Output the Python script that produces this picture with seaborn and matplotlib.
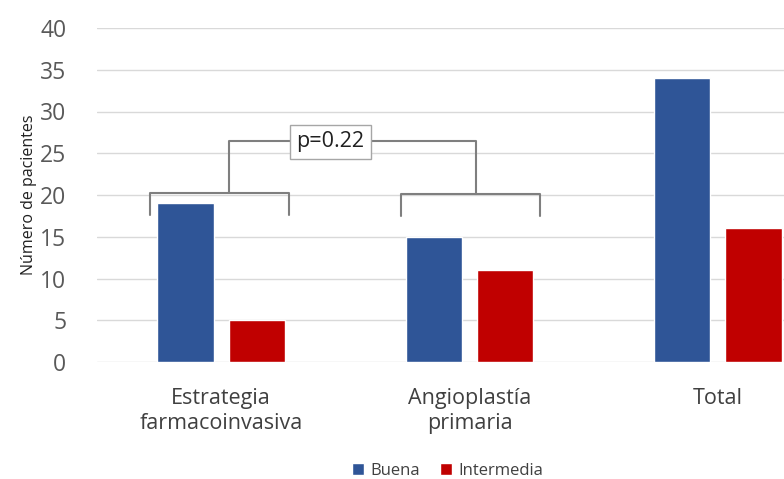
import pandas as pd
import seaborn as sns
import matplotlib.pyplot as plt

# values
categorias = ["Estrategia\nfarmacoinvasiva", "Angioplastía\nprimaria", "Total"]
buena = [19, 15, 34]
intermedia = [5, 11, 16]
series = ["Buena", "Intermedia"]
colores = ["#2F5597", "#C00000"]

df = pd.DataFrame({
    "categoria": categorias * 2,
    "grupo": [series[0]] * 3 + [series[1]] * 3,
    "pacientes": buena + intermedia,
})

sns.set_theme(style="white")
plt.rcParams["font.family"] = ["Open Sans", "DejaVu Sans"]

fig = plt.figure(figsize=(7.84, 4.79), dpi=100)
ax = fig.add_axes([97 / 784, 117 / 479, 687 / 784, 334 / 479])

sns.barplot(data=df, x="categoria", y="pacientes", hue="grupo",
            palette=colores, saturation=1, width=0.573, gap=0.21, ax=ax, legend=True)

ax.set_ylim(0, 40)
ax.set_xlim(-0.5, 2.266)
ax.set_yticks(range(0, 41, 5))
ax.yaxis.grid(True, color="#d9d9d9", linewidth=1)
ax.set_axisbelow(True)
for s in ax.spines.values():
    s.set_visible(False)
ax.tick_params(axis="y", labelsize=16.5, labelcolor="#595959", length=0, pad=22)
ax.tick_params(axis="x", labelsize=15.5, labelcolor="#404040", length=0, pad=19)
ax.set_xlabel("")
ax.set_ylabel("Número de pacientes", fontsize=11.5, color="#202020", labelpad=2)

# bracket comparing first two groups
lc = "#7f7f7f"
ax.plot([-0.286, -0.286, 0.274, 0.274], [17.6, 20.2, 20.2, 17.6], color=lc, lw=1.5)
ax.plot([0.722, 0.722, 1.282, 1.282], [17.5, 20.1, 20.1, 17.5], color=lc, lw=1.5)
ax.plot([0.032, 0.032, 1.024, 1.024], [20.2, 26.5, 26.5, 20.1], color=lc, lw=1.5)
ax.text(0.44, 26.4, "p=0.22", ha="center", va="center", fontsize=15.5, color="#202020",
        bbox=dict(boxstyle="square,pad=0.3", fc="white", ec="#a6a6a6", lw=1))

handles, labels = ax.get_legend_handles_labels()
ax.legend_.remove()
fig.legend(handles, labels, loc="center", bbox_to_anchor=(448 / 784, 1 - 471 / 479),
           ncol=2, frameon=False, fontsize=12, handlelength=0.7, handleheight=0.7,
           handletextpad=0.4, columnspacing=1.2, labelcolor="#404040")

fig.savefig("out.png", dpi=100)
